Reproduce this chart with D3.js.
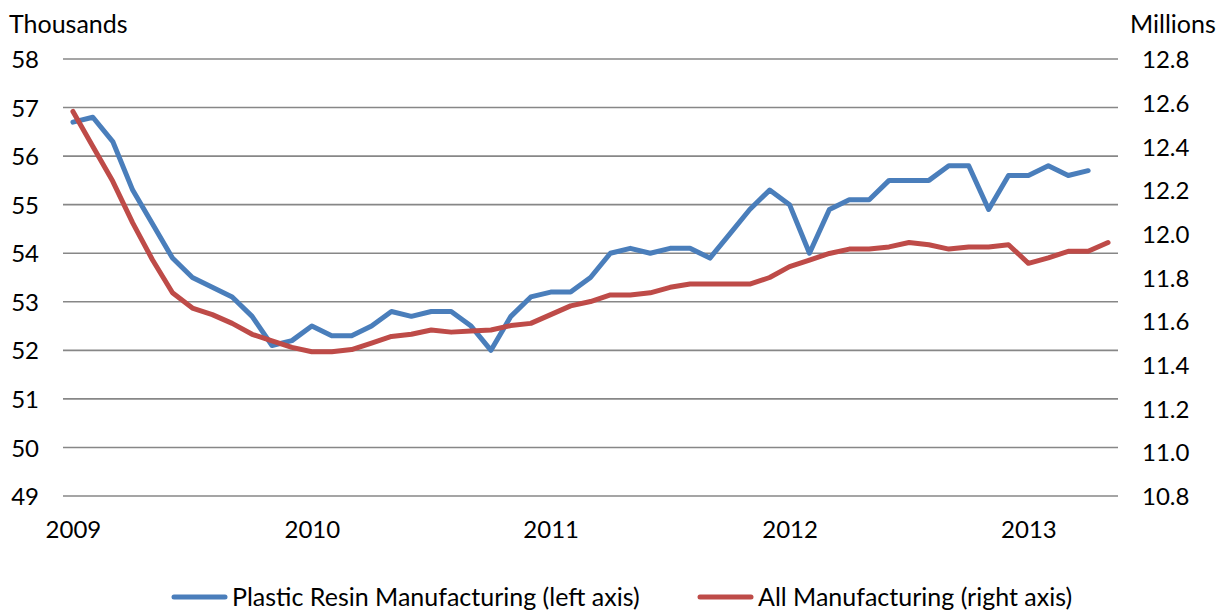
<!DOCTYPE html>
<html>
<head>
<meta charset="utf-8">
<script src="https://cdn.jsdelivr.net/npm/d3@7"></script>
<style>
  html, body { margin: 0; padding: 0; background: #fff; }
  svg { display: block; font-family: Lato, "Open Sans", sans-serif; }
</style>
</head>
<body>
<svg id="chart" width="1228" height="610"></svg>
<script>
// Monthly employment, January 2009 onward
const resinThousands = [
  56.7, 56.8, 56.3, 55.3, 54.6, 53.9, 53.5, 53.3, 53.1, 52.7, 52.1, 52.2,
  52.5, 52.3, 52.3, 52.5, 52.8, 52.7, 52.8, 52.8, 52.5, 52.0, 52.7, 53.1,
  53.2, 53.2, 53.5, 54.0, 54.1, 54.0, 54.1, 54.1, 53.9, 54.4, 54.9, 55.3,
  55.0, 54.0, 54.9, 55.1, 55.1, 55.5, 55.5, 55.5, 55.8, 55.8, 54.9, 55.6,
  55.6, 55.8, 55.6, 55.7
];
const allMfgMillions = [
  12.56, 12.40, 12.24, 12.05, 11.88, 11.73, 11.66, 11.63, 11.59, 11.54, 11.51, 11.48,
  11.46, 11.46, 11.47, 11.50, 11.53, 11.54, 11.56, 11.55, 11.555, 11.56, 11.58, 11.59,
  11.63, 11.67, 11.69, 11.72, 11.72, 11.73, 11.755, 11.77, 11.77, 11.77, 11.77, 11.80,
  11.85, 11.88, 11.91, 11.93, 11.93, 11.94, 11.96, 11.95, 11.93, 11.94, 11.94, 11.95,
  11.865, 11.89, 11.92, 11.92, 11.96
];
const leftTicks = [49, 50, 51, 52, 53, 54, 55, 56, 57, 58];
const rightTicks = [10.8, 11.0, 11.2, 11.4, 11.6, 11.8, 12.0, 12.2, 12.4, 12.6, 12.8];
const yearLabels = ["2009", "2010", "2011", "2012", "2013"];
const seriesNames = ["Plastic Resin Manufacturing (left axis)", "All Manufacturing (right axis)"];
const seriesColors = ["#4a7ebb", "#be4b48"];

const months = d3.range(allMfgMillions.length);

const svg = d3.select("#chart");
const plot = { left: 63, right: 1118, top: 59, bottom: 496 };
const numSize = 24;
const textSize = 25;

const x = d3.scalePoint()
  .domain(months)
  .range([plot.left, plot.right])
  .padding(0.5);

const yLeft = d3.scaleLinear().domain([49, 58]).range([plot.bottom, plot.top]);
const yRight = d3.scaleLinear().domain([10.8, 12.8]).range([plot.bottom, plot.top]);

// Horizontal gridlines on the left-axis ticks
svg.append("g")
  .selectAll("line")
  .data(leftTicks)
  .join("line")
  .attr("x1", plot.left)
  .attr("x2", plot.right)
  .attr("y1", d => yLeft(d))
  .attr("y2", d => yLeft(d))
  .attr("stroke", "#878787")
  .attr("stroke-width", 1.6);

// Left axis (thousands)
const leftAxis = d3.axisLeft(yLeft).tickValues(leftTicks).tickSize(0).tickPadding(0)
  .tickFormat(d3.format("d"));
const gL = svg.append("g").attr("transform", "translate(39,0)").call(leftAxis);
gL.select(".domain").remove();
gL.selectAll("text").attr("font-size", numSize).attr("fill", "#000")
  .attr("font-family", "Lato, sans-serif").attr("dy", "0.36em");

// Right axis (millions)
const rightAxis = d3.axisRight(yRight).tickValues(rightTicks).tickSize(0).tickPadding(0)
  .tickFormat(d3.format(".1f"));
const gR = svg.append("g").attr("transform", "translate(1142,0)").call(rightAxis);
gR.select(".domain").remove();
gR.selectAll("text").attr("font-size", numSize).attr("fill", "#000")
  .attr("font-family", "Lato, sans-serif").attr("dy", "0.36em");

// Year labels on each January
const xAxis = d3.axisBottom(x)
  .tickValues(months.filter(m => m % 12 === 0))
  .tickSize(0).tickPadding(0)
  .tickFormat(m => yearLabels[m / 12]);
const gX = svg.append("g").attr("transform", "translate(0,521)").call(xAxis);
gX.select(".domain").remove();
gX.selectAll("text").attr("font-size", numSize).attr("fill", "#000")
  .attr("font-family", "Lato, sans-serif").attr("dy", "0.71em");

// Unit titles
svg.append("text").attr("x", 9).attr("y", 33).attr("font-size", textSize).text("Thousands");
svg.append("text").attr("x", 1130).attr("y", 33).attr("font-size", textSize).text("Millions");

// Series lines
const lineLeft = d3.line().x((d, i) => x(i)).y(d => yLeft(d));
const lineRight = d3.line().x((d, i) => x(i)).y(d => yRight(d));

svg.append("path")
  .datum(resinThousands)
  .attr("d", lineLeft)
  .attr("fill", "none")
  .attr("stroke", seriesColors[0])
  .attr("stroke-width", 5)
  .attr("stroke-linejoin", "round")
  .attr("stroke-linecap", "round");

svg.append("path")
  .datum(allMfgMillions)
  .attr("d", lineRight)
  .attr("fill", "none")
  .attr("stroke", seriesColors[1])
  .attr("stroke-width", 5)
  .attr("stroke-linejoin", "round")
  .attr("stroke-linecap", "round");

// Legend
const legendItems = [
  { name: seriesNames[0], color: seriesColors[0], x: 172 },
  { name: seriesNames[1], color: seriesColors[1], x: 698 }
];
const lg = svg.append("g").selectAll("g").data(legendItems).join("g")
  .attr("transform", d => `translate(${d.x},597)`);
lg.append("line").attr("x1", 2).attr("x2", 53).attr("y1", 0).attr("y2", 0)
  .attr("stroke", d => d.color).attr("stroke-width", 5).attr("stroke-linecap", "round");
lg.append("text").attr("x", 60).attr("dy", "0.36em").attr("font-size", textSize)
  .text(d => d.name);
</script>
</body>
</html>
